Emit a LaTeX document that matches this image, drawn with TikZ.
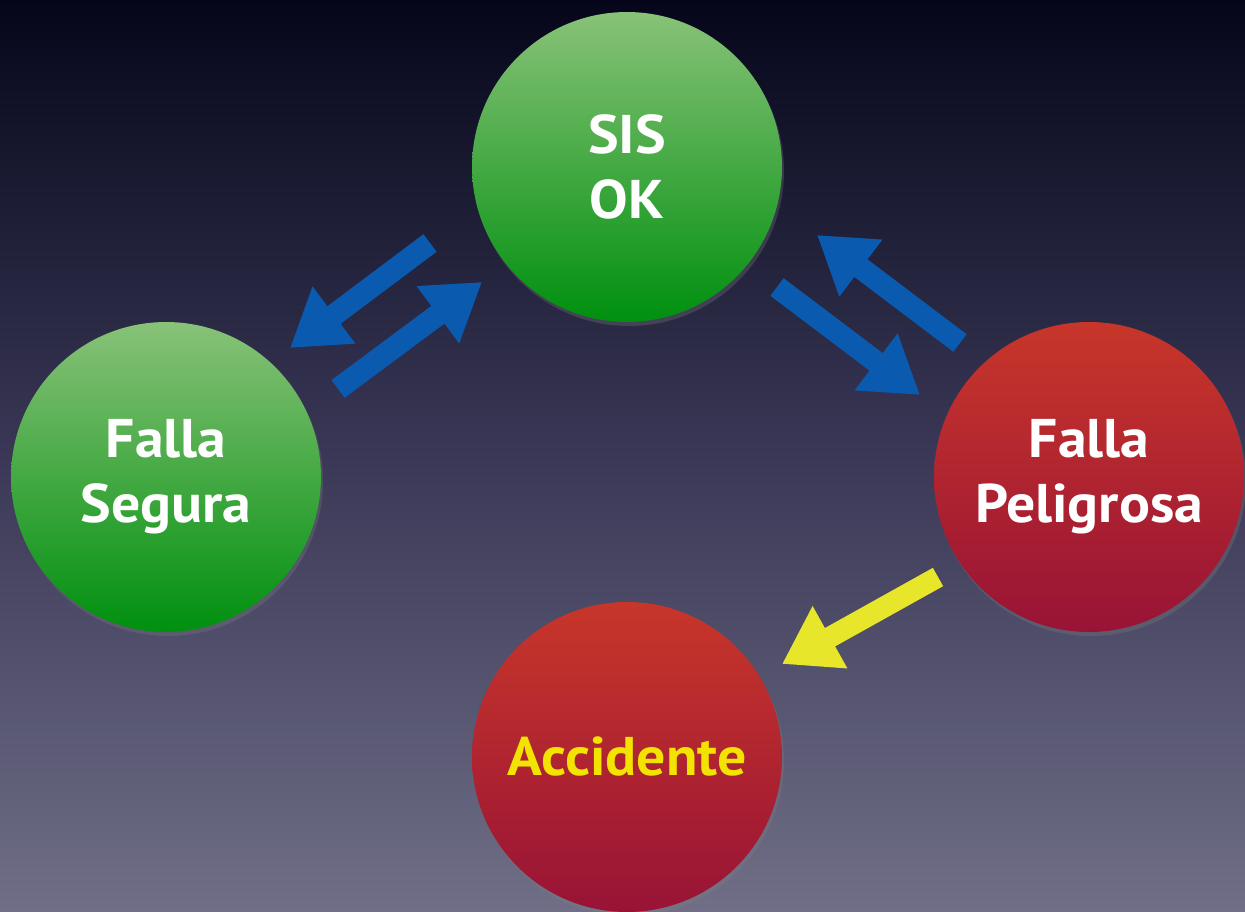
\documentclass[tikz,border=0pt]{standalone}
\usepackage{fontspec}
\setmainfont{PT Sans}[FakeStretch=1.06]
\usepackage{tikz}
\usetikzlibrary{arrows.meta}
\usetikzlibrary{shadows}
\definecolor{bgtop}{HTML}{05061A}
\definecolor{bgmid}{HTML}{3A3856}
\definecolor{bgbot}{HTML}{706F87}
\definecolor{greentop}{HTML}{88C278}
\definecolor{greenbot}{HTML}{00900F}
\definecolor{redtop}{HTML}{C8362A}
\definecolor{redbot}{HTML}{981336}
\definecolor{arrowblue}{HTML}{0A5BB0}
\definecolor{arrowyellow}{HTML}{E8E62A}
\definecolor{textyellow}{HTML}{F2E400}
\tikzset{
    x=0.02cm, y=-0.02cm,
    state/.style={shape=circle,minimum size=6.2cm,inner sep=0,align=center,
        font=\fontsize{31}{37}\selectfont\bfseries,text=white,
        drop shadow={opacity=0.3,shadow xshift=0.04cm,shadow yshift=-0.08cm}},
    green node/.style={state,top color=greentop,bottom color=greenbot},
    red node/.style={state,top color=redtop,bottom color=redbot},
    blue arrow/.style={draw=arrowblue,line width=0.44cm,
        -{Triangle[length=1.1cm,width=1.35cm]}},
    yellow arrow/.style={draw=arrowyellow,line width=0.42cm,
        -{Triangle[length=1.1cm,width=1.35cm]}}
}
\begin{document}
\begin{tikzpicture}
    \shade[top color=bgtop,bottom color=bgbot,middle color=bgmid] (0,0) rectangle (1245,912);
    \useasboundingbox (0,0) rectangle (1245,912);
    \node(ok)[green node] at (627,167) {SIS\\OK};
    \node(segura)[green node] at (166,477) {Falla\\Segura};
    \node(peligrosa)[red node] at (1089,477) {Falla\\Peligrosa};
    \node(accidente)[red node,text=textyellow] at (627,757) {Accidente};
    % ends of the arrows
    \coordinate (a1) at (430,243);
    \coordinate (b1) at (290,348);
    \coordinate (a2) at (338,389);
    \coordinate (b2) at (482,282);
    \coordinate (a3) at (960,343);
    \coordinate (b3) at (817,235);
    \coordinate (a4) at (777,287);
    \coordinate (b4) at (920,395);
    \coordinate (a5) at (938,577);
    \coordinate (b5) at (782,664);
    \draw[blue arrow] (a1) -- (b1);
    \draw[blue arrow] (a2) -- (b2);
    \draw[blue arrow] (a3) -- (b3);
    \draw[blue arrow] (a4) -- (b4);
    \draw[yellow arrow] (a5) -- (b5);
\end{tikzpicture}
\end{document}
